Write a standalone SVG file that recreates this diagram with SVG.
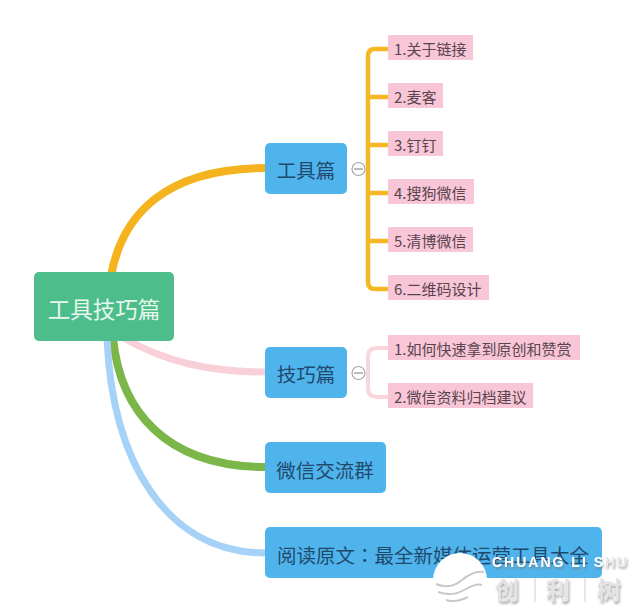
<svg xmlns="http://www.w3.org/2000/svg" width="640" height="614" viewBox="0 0 640 614">
<defs><filter id="sh" x="-20%" y="-30%" width="140%" height="170%"><feDropShadow dx="1" dy="2" stdDeviation="1" flood-color="#777" flood-opacity=".65"/></filter></defs>
<style>
text{font-family:"Noto Sans CJK SC","Liberation Sans",sans-serif}
.b{fill:#50b4ec}
.bt{font-size:19.500px;fill:#1f4a6e}
.p{fill:#f8c6d6}
.pt{font-size:15px;fill:#5a4450}
.c{fill:none;stroke-linecap:butt}
.y{stroke:#f5b824;stroke-width:4.500}
.k{stroke:#f9d5dc;stroke-width:4}
.m{fill:#fff;stroke:#a8a8a8;stroke-width:1.200}
.w{font-size:24px;font-weight:700;fill:#e4e4e4}
</style>
<rect width="640" height="614" fill="#fff"/>
<g id="connectors">
<path class="c" d="M111 276C122 215 165 168 266 168" stroke="#f5b31f" stroke-width="8"/>
<path class="c" d="M124 338C165 362 210 372 266 372" stroke="#f9d0d8" stroke-width="7"/>
<path class="c" d="M113 338C120 410 165 467 266 467" stroke="#7ab648" stroke-width="8"/>
<path class="c" d="M107 338C112 460 165 553 266 553" stroke="#a6d2f7" stroke-width="7"/>
<path class="c y" d="M389 49H375Q368 49 368 56V282Q368 289 375 289H389M368 97H389M368 145H389M368 193H389M368 241H389"/>
<path class="c k" d="M389 348H377Q368 348 368 357V388Q368 397 377 397H389"/>
</g>
<g id="root"><rect x="34" y="272" width="140" height="69" rx="5" fill="#4dbd8c"/><text x="104" y="318" text-anchor="middle" font-size="22.500" fill="#e6f8ee">工具技巧篇</text></g>
<g id="n-tools"><rect class="b" x="265" y="143" width="82" height="51" rx="5"/><text class="bt" x="306" y="178" text-anchor="middle">工具篇</text><circle class="m" cx="358.500" cy="169" r="6.500"/><path d="M354 169H363" stroke="#909090" stroke-width="1.200"/></g>
<g id="n-tips"><rect class="b" x="265" y="347" width="82" height="51" rx="5"/><text class="bt" x="306" y="382" text-anchor="middle">技巧篇</text><circle class="m" cx="358.500" cy="373" r="6.500"/><path d="M354 373H363" stroke="#909090" stroke-width="1.200"/></g>
<g id="n-group"><rect class="b" x="265" y="442" width="121" height="51" rx="5"/><text class="bt" x="325" y="478" text-anchor="middle">微信交流群</text></g>
<g id="n-read"><rect class="b" x="265" y="527" width="337" height="51" rx="5"/><text class="bt" x="277" y="563">阅读原文<tspan style="font-family:'Noto Sans CJK TC',sans-serif">：</tspan>最全新媒体运营工具大全</text></g>
<g id="t1"><rect class="p" x="388" y="35" width="85" height="25"/><text class="pt" x="394" y="55">1.关于链接</text></g>
<g id="t2"><rect class="p" x="388" y="83" width="55" height="25"/><text class="pt" x="394" y="103">2.麦客</text></g>
<g id="t3"><rect class="p" x="388" y="131" width="55" height="25"/><text class="pt" x="394" y="151">3.钉钉</text></g>
<g id="t4"><rect class="p" x="388" y="179" width="86" height="25"/><text class="pt" x="394" y="199">4.搜狗微信</text></g>
<g id="t5"><rect class="p" x="388" y="227" width="85" height="25"/><text class="pt" x="394" y="247">5.清博微信</text></g>
<g id="t6"><rect class="p" x="388" y="275" width="101" height="25"/><text class="pt" x="394" y="295">6.二维码设计</text></g>
<g id="s1"><rect class="p" x="388" y="335" width="192" height="25"/><text class="pt" x="394" y="355">1.如何快速拿到原创和赞赏</text></g>
<g id="s2"><rect class="p" x="388" y="383" width="145" height="25"/><text class="pt" x="394" y="403">2.微信资料归档建议</text></g>
<g id="watermark">
<circle cx="460" cy="580" r="27" fill="#fff"/>
<path d="M436 584Q450 590 462 580T484 572M438 592Q452 597 464 590T482 585M446 600Q456 603 468 597" fill="none" stroke="#c8c8c8" stroke-width="2"/>
<g filter="url(#sh)">
<text x="492" y="567" font-size="14" font-weight="700" fill="#fff" style="font-family:'Liberation Sans',sans-serif" letter-spacing="2">CHUANG LI S<tspan fill="#e8e8e8">HU</tspan></text>
<text class="w" x="495" y="599">创</text>
<text class="w" x="546" y="599">利</text>
<text class="w" x="597" y="599">树</text>
</g>
<path d="M535 578V602M585 578V602" stroke="#dedede" stroke-width="1.500"/>
</g>
</svg>
